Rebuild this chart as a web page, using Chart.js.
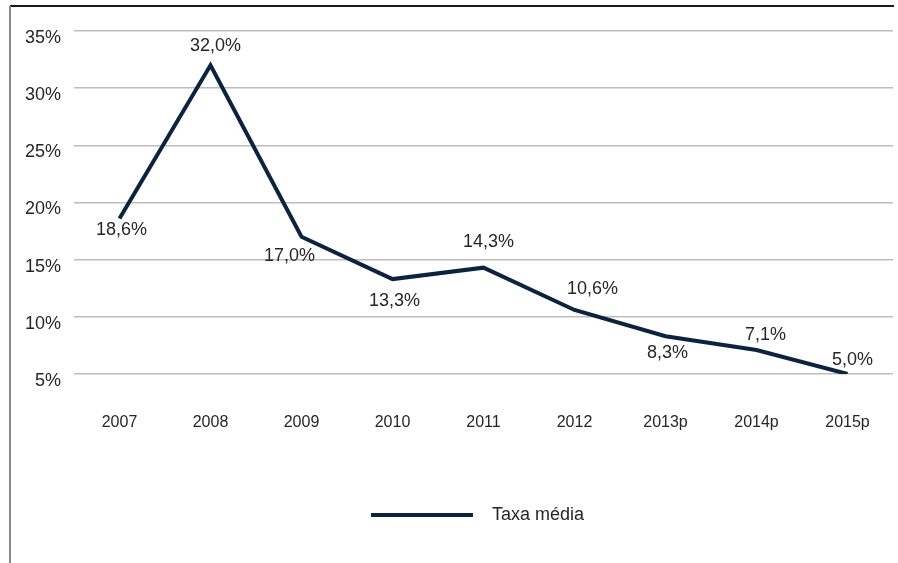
<!DOCTYPE html>
<html>
<head>
<meta charset="utf-8">
<script src="https://cdn.jsdelivr.net/npm/chart.js@4/dist/chart.umd.min.js"></script>
<style>
  html, body { margin: 0; padding: 0; background: #fff; }
  #wrap { width: 898px; height: 563px; position: relative; }
</style>
</head>
<body>
<div id="wrap"><canvas id="myChart" width="898" height="563"></canvas></div>
<script>
var anos = ['2007', '2008', '2009', '2010', '2011', '2012', '2013p', '2014p', '2015p'];
var taxaMedia = [18.6, 32.0, 17.0, 13.3, 14.3, 10.6, 8.3, 7.1, 5.0];
var yTicks = [5, 10, 15, 20, 25, 30, 35];

// onde fica cada rotulo em relacao ao ponto (dx, dy)
var labelOffsets = [[2, 12], [5, -19], [-12, 19], [2, 22], [5, -26], [18, -21], [2, 17], [9, -15], [5, -14]];

Chart.defaults.font.family = '"Liberation Sans", Arial, sans-serif';
Chart.defaults.font.size = 18;
Chart.defaults.color = '#262626';

function pct(v) {
  return v.toFixed(1).replace('.', ',') + '%';
}

// moldura (linha de cima e da esquerda)
var frame = {
  id: 'frame',
  beforeDraw: function (chart) {
    var c = chart.ctx;
    c.save();
    c.fillStyle = '#fff';
    c.fillRect(0, 0, chart.width, chart.height);
    c.lineWidth = 2;
    c.strokeStyle = '#1a1a1a';
    c.beginPath();
    c.moveTo(10, 6);
    c.lineTo(894, 6);
    c.stroke();
    c.strokeStyle = '#8a8a8a';
    c.beginPath();
    c.moveTo(10, 6);
    c.lineTo(10, chart.height);
    c.stroke();
    c.restore();
  }
};

// empurra a legenda um pouco para a direita
var legendShift = {
  id: 'legendShift',
  afterLayout: function (chart) {
    if (chart.legend) {
      chart.legend.left += 26;
      chart.legend.right += 26;
    }
  }
};

var valueLabels = {
  id: 'valueLabels',
  afterDatasetsDraw: function (chart) {
    var c = chart.ctx;
    var meta = chart.getDatasetMeta(0);
    c.save();
    c.font = '18px "Liberation Sans", Arial, sans-serif';
    c.fillStyle = '#262626';
    c.textAlign = 'center';
    c.textBaseline = 'middle';
    meta.data.forEach(function (pt, i) {
      var off = labelOffsets[i];
      c.fillText(pct(taxaMedia[i]), pt.x + off[0], pt.y + off[1]);
    });
    c.restore();
  }
};

var ctx = document.getElementById('myChart').getContext('2d');
var myChart = new Chart(ctx, {
  type: 'line',
  data: {
    labels: anos,
    datasets: [{
      label: 'Taxa média',
      data: taxaMedia,
      borderColor: '#0c2340',
      backgroundColor: '#0c2340',
      borderWidth: 4,
      pointRadius: 0,
      tension: 0,
      fill: false
    }]
  },
  options: {
    responsive: false,
    animation: false,
    layout: { padding: { left: 10, right: 5, top: 31, bottom: 29 } },
    plugins: {
      legend: {
        position: 'bottom',
        labels: {
          usePointStyle: true,
          pointStyle: 'line',
          pointStyleWidth: 102,
          padding: 10,
          color: '#262626',
          font: { size: 18 },
          generateLabels: function (chart) {
            var items = Chart.defaults.plugins.legend.labels.generateLabels(chart);
            items.forEach(function (it) { it.text = '  ' + it.text; it.pointStyle = 'line'; });
            return items;
          }
        }
      },
      tooltip: { enabled: false }
    },
    scales: {
      x: {
        offset: true,
        grid: { display: false, drawTicks: true, tickLength: 33 },
        border: { display: false },
        ticks: { padding: 6, color: '#262626', font: { size: 16 } },
        afterFit: function (scale) { scale.height = 122; }
      },
      y: {
        min: 5,
        max: 35,
        grid: { color: '#bdbdbd', lineWidth: 1.5, drawTicks: false },
        border: { display: false },
        afterBuildTicks: function (scale) {
          scale.ticks = yTicks.map(function (v) { return { value: v }; });
        },
        ticks: {
          padding: 13,
          labelOffset: 7,
          color: '#262626',
          font: { size: 18 },
          callback: function (v) { return v + '%'; }
        },
        afterFit: function (scale) { scale.width = 64; }
      }
    }
  },
  plugins: [frame, legendShift, valueLabels]
});
</script>
</body>
</html>
